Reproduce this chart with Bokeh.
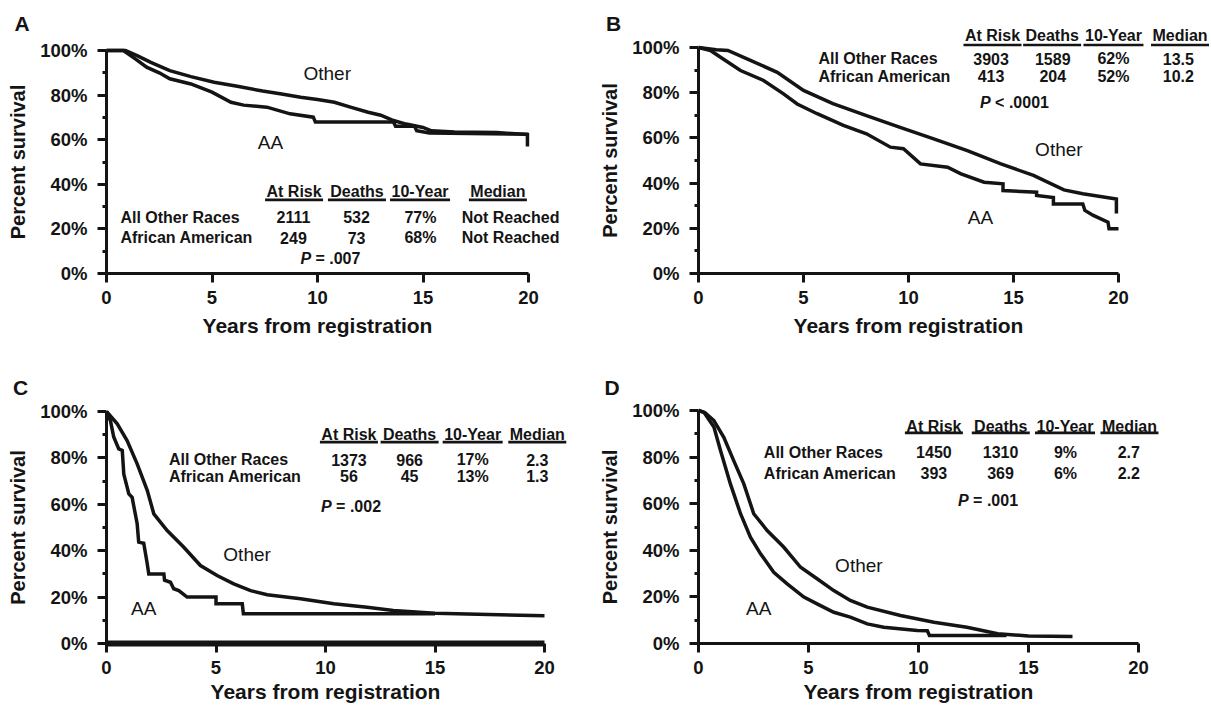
from bokeh.plotting import figure
from bokeh.models import Range1d, FixedTicker, Label, LinearAxis
from bokeh.layouts import row, column
from bokeh.embed import file_html
from bokeh.resources import INLINE

FONT = "Liberation Sans"
INK = "#141414"

# ---------------- data ----------------
headers = ["At Risk", "Deaths", "10-Year", "Median"]
groups = ["All Other Races", "African American"]

# Panel A
A_other_t = [0, 0.9, 1.5, 2.1, 3.0, 4.0, 5.1, 6.2, 7.4, 8.3, 9.2, 10.0, 10.8, 11.6, 12.4, 13.0, 13.6, 14.2, 15.0, 15.4, 16.5, 18.5, 19.95, 19.95]
A_other_s = [100, 100, 97.5, 94.7, 91, 88.3, 85.8, 84, 81.8, 80.5, 79, 78, 76.8, 74.5, 72.3, 71, 68.6, 67, 65.5, 64, 63.5, 63.2, 62.3, 57]
A_aa_t = [0, 0.8, 1.4, 1.9, 2.5, 3.0, 4.0, 5.0, 5.9, 6.5, 7.6, 8.7, 9.8, 9.9, 13.6, 13.7, 14.6, 14.7, 15.3, 20]
A_aa_s = [100, 100, 96, 92.5, 90, 87.3, 85, 81.3, 76.8, 75.5, 74.6, 71.6, 70.1, 67.9, 67.9, 66, 66, 64, 63, 62.5]
A_atrisk = ["2111", "249"]
A_deaths = ["532", "73"]
A_tenyr = ["77%", "68%"]
A_median = ["Not Reached", "Not Reached"]
A_p = "= .007"

# Panel B
B_other_t = [0, 0.85, 1.4, 2.5, 3.75, 5.0, 6.4, 8.0, 9.6, 11.2, 12.8, 14.4, 15.95, 17.4, 18.3, 19.9, 19.9]
B_other_s = [100, 99, 98.7, 94.2, 89, 81, 75.2, 69.9, 64.7, 59.6, 54.4, 48.5, 43.4, 37, 35.3, 33, 26.5]
B_aa_t = [0, 0.57, 1.05, 2.0, 3.1, 4.05, 4.7, 5.65, 6.9, 8.0, 9.14, 9.76, 10.57, 11.86, 12.5, 13.6, 14.5, 14.5, 16.1, 16.1, 16.9, 16.9, 18.3, 18.4, 18.8, 19.5, 19.55, 20]
B_aa_s = [100, 98.7, 95.7, 89.8, 85.4, 79.5, 75, 70.7, 65.5, 61.8, 55.9, 55.2, 48.5, 47, 44.1, 40.4, 39.7, 36.7, 36, 34.5, 33.6, 30.8, 30.8, 27.9, 25.7, 22.7, 19.8, 19.8]
B_atrisk = ["3903", "413"]
B_deaths = ["1589", "204"]
B_tenyr = ["62%", "52%"]
B_median = ["13.5", "10.2"]
B_p = "< .0001"

# Panel C
C_other_t = [0, 0.49, 0.94, 1.4, 1.86, 2.16, 2.77, 3.53, 4.29, 5.05, 5.81, 6.58, 7.34, 8.86, 10.38, 11.9, 13.1, 15, 20]
C_other_s = [100, 94.7, 87.5, 77.4, 66, 55.9, 48.7, 41.5, 33.6, 29.3, 25.7, 22.8, 21, 19.3, 17.1, 15.6, 14.2, 13, 12]
C_aa_t = [0, 0.18, 0.33, 0.56, 0.72, 0.79, 1.02, 1.17, 1.4, 1.47, 1.7, 1.86, 1.93, 2.62, 2.65, 2.92, 3.07, 3.3, 3.68, 5.0, 5.0, 6.2, 6.25, 15]
C_aa_s = [100, 96, 89, 83.9, 83.2, 73, 64.5, 63, 51.6, 43.7, 43.2, 34.4, 30, 30, 27.3, 26.4, 23.6, 22.8, 20, 20, 17.1, 17.1, 12.8, 12.8]
C_atrisk = ["1373", "56"]
C_deaths = ["966", "45"]
C_tenyr = ["17%", "13%"]
C_median = ["2.3", "1.3"]
C_p = "= .002"

# Panel D
D_other_t = [0, 0.3, 0.7, 1.15, 1.6, 2.06, 2.51, 3.12, 3.88, 4.64, 5.39, 6.15, 6.9, 7.67, 9.18, 10.7, 12.2, 13.6, 15, 17]
D_other_s = [100, 99, 95.7, 88.5, 78.5, 68.5, 55.7, 48.5, 41.3, 32.7, 27.8, 22.7, 18.5, 15.6, 12, 9.1, 7, 4.2, 3.2, 3]
D_aa_t = [0, 0.24, 0.7, 1.0, 1.45, 1.91, 2.36, 2.82, 3.42, 4.03, 4.79, 5.39, 6.15, 6.9, 7.67, 8.42, 9.94, 10.4, 10.5, 14]
D_aa_s = [100, 99.3, 92.9, 82.8, 68.5, 55.7, 45.6, 38.5, 30.6, 25.6, 19.9, 17, 13.4, 11.3, 8.4, 7, 5.6, 5.5, 3.4, 3.4]
D_atrisk = ["1450", "393"]
D_deaths = ["1310", "369"]
D_tenyr = ["9%", "6%"]
D_median = ["2.7", "2.2"]
D_p = "= .001"

y_ticks = [0, 20, 40, 60, 80, 100]
y_minor = [10, 30, 50, 70, 90]
x_ticks = [0, 5, 10, 15, 20]

# ---------------- layout (page pixels) ----------------
GEOM = {
    "A": dict(cl=0, ct=0, w=600, h=343, x0=106, x20=528, y0=273, y100=50, letter=(21.7, 23.3), xls=7),
    "B": dict(cl=600, ct=0, w=610, h=343, x0=698, x20=1118, y0=273, y100=47, letter=(613, 23.3), xls=7),
    "C": dict(cl=0, ct=343, w=600, h=363, x0=106, x20=544, y0=643, y100=411, letter=(20, 386.7), xls=3),
    "D": dict(cl=600, ct=343, w=610, h=363, x0=698, x20=1138, y0=643, y100=410, letter=(611.7, 386.7), xls=3),
}

LAY = {
    "A": dict(lab_x=0.66, head_x=[8.89, 11.87, 14.86, 18.55], val_x=[8.86, 11.85, 14.88, 19.15],
              y_head=36.8, y_ul=33.0, y_rows=[25.2, 16.0], p_x=9.19, p_y=6.9,
              other=(10.46, 89.5), aa=(7.77, 58.9)),
    "B": dict(lab_x=5.71, head_x=[14.0, 16.84, 19.76, 22.93], val_x=[13.93, 16.87, 19.76, 22.85],
              y_head=105.3, y_ul=101.1, y_rows=[95.0, 87.2], p_x=13.41, p_y=75.8,
              other=(17.16, 54.7), aa=(13.43, 24.9)),
    "C": dict(lab_x=2.85, head_x=[11.07, 13.84, 16.72, 19.67], val_x=[11.07, 13.84, 16.72, 19.67],
              y_head=90.0, y_ul=86.8, y_rows=[79.3, 72.0], p_x=9.8, p_y=59.0,
              other=(6.42, 38.4), aa=(1.7, 15.0)),
    "D": dict(lab_x=2.97, head_x=[10.7, 13.74, 16.66, 19.59], val_x=[10.7, 13.73, 16.68, 19.56],
              y_head=93.1, y_ul=90.4, y_rows=[82.1, 73.1], p_x=11.8, p_y=61.4,
              other=(7.29, 33.5), aa=(2.74, 14.9)),
}
UL_HALF = [29, 29, 30, 29]   # underline half widths, px
P_GAP = 15.0                 # offset of the text after the italic "P", px


def lab(p, x, y, text, size="16px", style="bold", align="left", x_offset=0):
    p.add_layout(Label(x=x, y=y, x_offset=x_offset, text=text, text_font=FONT, text_font_size=size,
                       text_font_style=style, text_color=INK, text_align=align,
                       text_baseline="middle"))


def style_axis(ax):
    ax.axis_line_width = 3
    ax.axis_line_color = INK
    ax.major_tick_line_width = 3
    ax.major_tick_line_color = INK
    ax.major_tick_in = 0
    ax.major_label_text_font = FONT
    ax.major_label_text_font_style = "bold"
    ax.major_label_text_font_size = "18.5px"
    ax.major_label_text_color = INK
    ax.axis_label_text_font = FONT
    ax.axis_label_text_font_style = "bold"
    ax.axis_label_text_color = INK


def panel(key, other_t, other_s, aa_t, aa_s, cols, ptext, xaxis_w=3):
    g = GEOM[key]
    L = LAY[key]
    xs = (g["x20"] - g["x0"]) / 20.0
    ys = (g["y0"] - g["y100"]) / 100.0
    x_start = (g["cl"] - g["x0"]) / xs
    x_end = (g["cl"] + g["w"] - g["x0"]) / xs
    y_start = (g["y0"] - (g["ct"] + g["h"])) / ys
    y_end = (g["y0"] - g["ct"]) / ys
    p = figure(width=g["w"], height=g["h"], x_range=Range1d(x_start, x_end),
               y_range=Range1d(y_start, y_end),
               x_axis_location=None, y_axis_location=None,
               output_backend="svg", toolbar_location=None,
               min_border_left=0, min_border_right=0, min_border_top=0, min_border_bottom=0,
               outline_line_color=None, background_fill_color="white", border_fill_color="white")
    p.xgrid.visible = False
    p.ygrid.visible = False

    xa = LinearAxis(fixed_location=0)
    style_axis(xa)
    xa.bounds = (0, 20)
    xa.ticker = FixedTicker(ticks=x_ticks)
    xa.major_tick_out = 9
    xa.minor_tick_line_color = None
    xa.major_label_standoff = 8
    xa.axis_label = "Years from registration"
    xa.axis_label_text_font_size = "21px"
    xa.axis_label_standoff = g["xls"]
    xa.axis_line_width = xaxis_w
    p.add_layout(xa, "below")

    ya = LinearAxis(fixed_location=0)
    style_axis(ya)
    ya.bounds = (0, 100)
    ya.ticker = FixedTicker(ticks=y_ticks, minor_ticks=y_minor)
    ya.major_label_overrides = {v: f"{v}%" for v in y_ticks}
    ya.major_tick_out = 9
    ya.minor_tick_out = 4
    ya.minor_tick_in = 0
    ya.minor_tick_line_width = 3
    ya.minor_tick_line_color = INK
    ya.major_label_standoff = 10
    ya.axis_label = "Percent survival"
    ya.axis_label_text_font_size = "20px"
    ya.axis_label_standoff = 8
    p.add_layout(ya, "left")

    # survival curves
    p.line(other_t, other_s, line_width=3.5, line_color=INK, line_join="miter")
    p.line(aa_t, aa_s, line_width=3.5, line_color=INK, line_join="miter")

    # curve labels
    lab(p, L["other"][0], L["other"][1], "Other", size="19px", style="normal", align="center")
    lab(p, L["aa"][0], L["aa"][1], "AA", size="19px", style="normal", align="center")

    # table
    for i, h in enumerate(headers):
        lab(p, L["head_x"][i], L["y_head"], h, align="center")
        hw = UL_HALF[i] / xs
        p.segment(x0=[L["head_x"][i] - hw], y0=[L["y_ul"]], x1=[L["head_x"][i] + hw], y1=[L["y_ul"]],
                  line_width=2.6, line_color=INK)
    for r, gname in enumerate(groups):
        yv = L["y_rows"][r]
        lab(p, L["lab_x"], yv, gname)
        for c, colvals in enumerate(cols):
            lab(p, L["val_x"][c], yv, colvals[r], align="center")
    lab(p, L["p_x"], L["p_y"], "P", style="bold italic")
    lab(p, L["p_x"], L["p_y"], ptext, x_offset=P_GAP)

    # panel letter
    lx = (g["letter"][0] - g["x0"]) / xs
    ly = (g["y0"] - g["letter"][1]) / ys
    lab(p, lx, ly, key, size="21px", style="bold", align="center")
    return p


pA = panel("A", A_other_t, A_other_s, A_aa_t, A_aa_s, [A_atrisk, A_deaths, A_tenyr, A_median], A_p)
pB = panel("B", B_other_t, B_other_s, B_aa_t, B_aa_s, [B_atrisk, B_deaths, B_tenyr, B_median], B_p)
pC = panel("C", C_other_t, C_other_s, C_aa_t, C_aa_s, [C_atrisk, C_deaths, C_tenyr, C_median], C_p, xaxis_w=6)
pD = panel("D", D_other_t, D_other_s, D_aa_t, D_aa_s, [D_atrisk, D_deaths, D_tenyr, D_median], D_p)

layout = column(row(pA, pB), row(pC, pD))
open("out.html", "w").write(file_html(layout, INLINE))
